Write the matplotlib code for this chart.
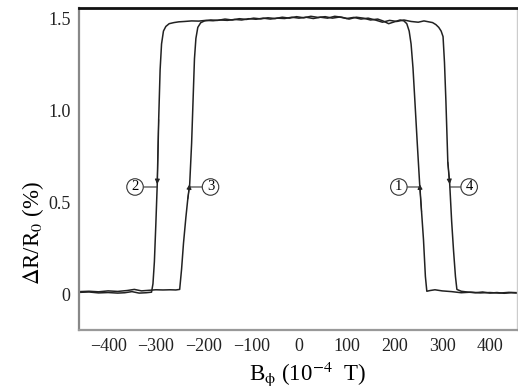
import numpy as np
import matplotlib.pyplot as plt

plt.rcParams['font.family'] = ['Liberation Serif', 'DejaVu Serif']
plt.rcParams['mathtext.fontset'] = 'stix'

# field swept from + to - (branches 1 and 2)
down_B = [460, 440, 420, 400, 380, 360, 340, 320, 300, 285, 275, 268,
          265, 261, 257, 253, 248, 243, 239, 235, 231, 226, 220, 212,
          200, 188, 176, 165, 150, 135, 120, 105, 90, 75, 60, 45, 30, 15, 0,
          -15, -30, -45, -60, -75, -90, -105, -120, -135, -150, -165, -180,
          -195, -210, -225, -240, -252, -262, -272,
          -279, -284, -288, -291, -294, -297, -300, -303, -306, -309,
          -320, -335, -350, -365, -380, -400, -420, -440, -460]
down_R = [0.012, 0.014, 0.010, 0.013, 0.011, 0.015, 0.012, 0.018, 0.022, 0.028, 0.024, 0.020,
          0.10, 0.30, 0.45, 0.60, 0.82, 1.05, 1.23, 1.36, 1.43, 1.47, 1.485, 1.49,
          1.480, 1.470, 1.485, 1.495, 1.490, 1.500, 1.505, 1.495, 1.505, 1.510, 1.500, 1.505, 1.498, 1.505, 1.500,
          1.505, 1.498, 1.500, 1.495, 1.500, 1.494, 1.497, 1.490, 1.493, 1.488, 1.490, 1.486,
          1.488, 1.484, 1.485, 1.482, 1.480, 1.476, 1.470,
          1.455, 1.43, 1.36, 1.22, 0.95, 0.60, 0.38, 0.18, 0.06, 0.015,
          0.012, 0.010, 0.018, 0.012, 0.010, 0.013, 0.011, 0.016, 0.014]

# field swept from - to + (branches 3 and 4)
up_B = [-460, -440, -420, -400, -380, -360, -345, -330, -315, -300, -285, -270, -258, -250,
        -246, -242, -237, -233, -229, -225, -222, -219, -216, -212, -206, -198,
        -185, -170, -155, -140, -125, -110, -95, -80, -65, -50, -35, -20, -5, 10, 25, 40,
        55, 70, 85, 100, 115, 130, 145, 160, 175, 190, 205, 220, 235, 250, 262, 272, 280,
        287, 293, 298, 302, 305, 308, 312, 316, 320, 324, 328, 331,
        340, 355, 370, 385, 400, 415, 430, 445, 460]
up_R = [0.018, 0.020, 0.017, 0.022, 0.019, 0.024, 0.030, 0.022, 0.025, 0.028, 0.027, 0.028, 0.027, 0.030,
        0.14, 0.28, 0.42, 0.52, 0.60, 0.82, 1.05, 1.28, 1.39, 1.45, 1.475, 1.485,
        1.490, 1.488, 1.495, 1.490, 1.497, 1.493, 1.500, 1.496, 1.502, 1.498, 1.505, 1.500, 1.508, 1.502, 1.510, 1.504,
        1.508, 1.500, 1.506, 1.498, 1.504, 1.495, 1.500, 1.490, 1.478, 1.488, 1.482, 1.490, 1.482, 1.478, 1.485, 1.480, 1.476,
        1.465, 1.45, 1.43, 1.40, 1.26, 1.05, 0.72, 0.60, 0.40, 0.24, 0.10, 0.03,
        0.020, 0.015, 0.012, 0.016, 0.010, 0.013, 0.009, 0.012, 0.010]

x_ticks = [-400, -300, -200, -100, 0, 100, 200, 300, 400]
y_ticks = [0, 0.5, 1.0, 1.5]
y_ticklabels = ['0', '0.5', '1.0', '1.5']
branch_labels = ['1', '2', '3', '4']
label_R = 0.585

fig = plt.figure(figsize=(5.18, 3.9), dpi=100)
ax = fig.add_axes([79 / 518, 60 / 390, 438 / 518, 322 / 390])

line_kw = dict(color='#222222', lw=1.1)
ax.plot(down_B, down_R, **line_kw)
ax.plot(up_B, up_R, **line_kw)

# arrows + circled branch numbers at mid-height of each switching branch
db, dr = np.array(down_B), np.array(down_R)
ub, ur = np.array(up_B), np.array(up_R)
branches = [(db, dr, db > 0, -15), (db, dr, db < 0, -16),
            (ub, ur, ub < 0, 15), (ub, ur, ub > 0, 14)]
for label, (bb, rr, mask, dx) in zip(branch_labels, branches):
    idx = np.where(mask)[0]
    i = idx[np.argmin(np.abs(rr[idx] - 0.6))]
    ax.annotate('', xy=(bb[i], rr[i]), xytext=(bb[i - 1], rr[i - 1]),
                arrowprops=dict(arrowstyle='-|>', color='#222222', lw=0.8,
                                mutation_scale=7, shrinkA=0, shrinkB=0))
    ax.annotate(label, xy=(bb[i], label_R), xytext=(dx, 0),
                textcoords='offset points', ha='center', va='center',
                fontsize=10.5,
                bbox=dict(boxstyle='circle,pad=0.12', fc='white', ec='#333333', lw=0.8),
                arrowprops=dict(arrowstyle='-', color='#333333', lw=0.8,
                                shrinkA=0, shrinkB=0))

ax.set_xlim(-461, 457)
ax.set_ylim(-0.19, 1.555)
ax.set_xticks(x_ticks)
ax.set_yticks(y_ticks)
ax.set_yticklabels(y_ticklabels)
ax.tick_params(length=0, labelsize=13, pad=6, labelcolor='#222222')

ax.spines['top'].set_color('#111111')
ax.spines['top'].set_linewidth(2.0)
ax.spines['left'].set_color('#888888')
ax.spines['left'].set_linewidth(1.6)
ax.spines['bottom'].set_color('#999999')
ax.spines['bottom'].set_linewidth(1.6)
ax.spines['right'].set_color('#cccccc')
ax.spines['right'].set_linewidth(1.0)

ax.set_xlabel(r'B$_{\mathrm{\phi}}$ (10$^{-4}$  T)', fontsize=16.5)
ax.xaxis.set_label_coords(0.523, -0.092)
ax.set_ylabel(r'$\Delta$R/R$_0$ (%)', fontsize=16.5)
ax.yaxis.set_label_coords(-0.075, 0.30)

fig.savefig('out.png', dpi=100)
